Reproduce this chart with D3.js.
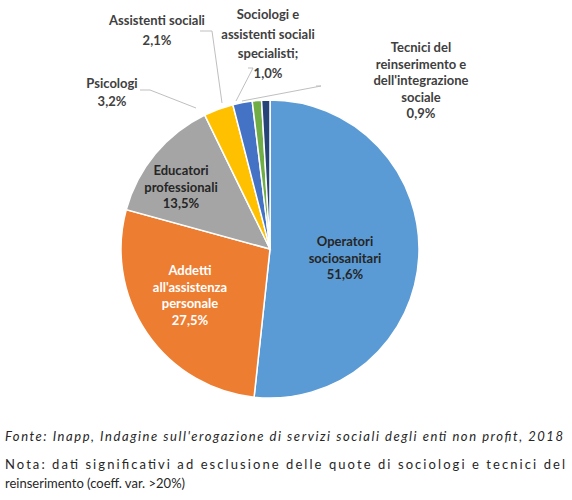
<!DOCTYPE html><html><head><meta charset="utf-8"><script src="https://cdn.jsdelivr.net/npm/d3@7"></script>
<style>body{margin:0;background:#fff}text{font-family:Lato,"Noto Sans",sans-serif}</style></head><body><svg id="c" width="572" height="500"></svg>
<script>
const categories=["Operatori sociosanitari","Addetti all'assistenza personale","Educatori professionali","Psicologi","Assistenti sociali","Sociologi e assistenti sociali specialisti","Tecnici del reinserimento e dell'integrazione sociale"];
const values=[51.6,27.5,13.5,3.2,2.1,1.0,0.9];
const colors=["#5B9BD5","#ED7D31","#A5A5A5","#FFC000","#4472C4","#70AD47","#264478"];
const labelLines=[["Operatori","sociosanitari","51,6%"],["Addetti","all'assistenza","personale","27,5%"],["Educatori","professionali","13,5%"],["Psicologi","3,2%"],["Assistenti sociali","2,1%"],["Sociologi e","assistenti sociali","specialisti;","1,0%"],["Tecnici del","reinserimento e","dell'integrazione","sociale","0,9%"]];
const svg=d3.select("#c");
const cx=270,cy=249,r=149;
const pie=d3.pie().sort(null)(values);
const arc=d3.arc().innerRadius(0).outerRadius(r);
const g=svg.append("g").attr("transform",`translate(${cx},${cy})`);
g.selectAll("path").data(pie).join("path").attr("d",arc).attr("fill",(d,i)=>colors[i]).attr("stroke","#fff").attr("stroke-width",1.5);
const place=[{x:345,y:246,lh:16.5,c:"#262626"},{x:190,y:275,lh:16.5,c:"#fff"},{x:181,y:175,lh:16.5,c:"#262626"},{x:112,y:88,lh:18},{x:157,y:25,lh:20},{x:268,y:19,lh:19.5},{x:421,y:52,lh:16.5}];
const leaders=[null,null,null,[[140,90],[150,90],[196,108]],[[200,31],[212,31],[222,103]],[[248,68],[253,68],[236,101]],[[316,86],[321,86],[242,101]]];
leaders.forEach((l,i)=>{if(l)svg.append("polyline").attr("points",l.map(p=>p.join(",")).join(" ")).attr("fill","none").attr("stroke","#bfbfbf").attr("stroke-width",1);});
labelLines.forEach((ls,i)=>{const p=place[i];const t=svg.append("text").attr("text-anchor","middle").attr("font-size",13).attr("font-weight","bold").attr("fill",p.c||"#404040");
ls.forEach((s,j)=>t.append("tspan").attr("x",p.x).attr("y",p.y+j*p.lh).text(s));});
svg.append("text").attr("x",5).attr("y",441).attr("font-size",13).attr("font-style","italic").attr("fill","#262626").attr("textLength",558).attr("lengthAdjust","spacing").text("Fonte: Inapp, Indagine sull'erogazione di servizi sociali degli enti non profit, 2018");
svg.append("text").attr("x",5).attr("y",469).attr("font-size",13).attr("fill","#262626").attr("textLength",560).attr("lengthAdjust","spacing").text("Nota: dati significativi ad esclusione delle quote di sociologi e tecnici del");
svg.append("text").attr("x",5).attr("y",488).attr("font-size",13).attr("fill","#262626").text("reinserimento (coeff. var. >20%)");
</script></body></html>
